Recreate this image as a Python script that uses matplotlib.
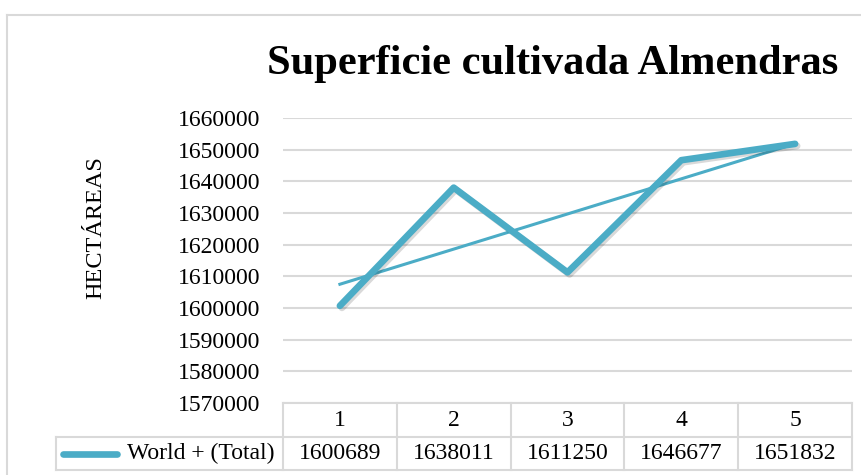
import numpy as np
import matplotlib.pyplot as plt
import matplotlib.patheffects as pe

plt.rcParams['font.family'] = ['Liberation Serif', 'DejaVu Serif']

# datos
categorias = ['1', '2', '3', '4', '5']
superficie = [1600689, 1638011, 1611250, 1646677, 1651832]
serie = 'World + (Total)'
titulo = 'Superficie cultivada Almendras'
eje_y = 'HECTÁREAS'

color = '#4BACC6'
gris = '#D9D9D9'
fs = 17

W, H = 862, 475
fig = plt.figure(figsize=(W / 100, H / 100), dpi=100)

# marco del gráfico
fig.add_artist(plt.Line2D([7 / W, 1.2], [1 - 15 / H] * 2, transform=fig.transFigure, color=gris, lw=1.5))
fig.add_artist(plt.Line2D([7 / W] * 2, [-0.2, 1 - 15 / H], transform=fig.transFigure, color=gris, lw=1.5))

ax = fig.add_axes([283 / W, 1 - 403 / H, 569 / W, 285 / H])
x = np.arange(1, len(superficie) + 1)

ax.plot(x, superficie, color=color, lw=4.8, solid_capstyle='round', solid_joinstyle='round', zorder=3,
        path_effects=[pe.SimpleLineShadow(offset=(1.5, -1.5), shadow_color='black', alpha=0.15), pe.Normal()])

# línea de tendencia lineal
a, b = np.polyfit(x, superficie, 1)
ax.plot(x, a * x + b, color=color, lw=2.2, zorder=2)

ax.set_xlim(0.5, len(superficie) + 0.5)
ax.set_ylim(1570000, 1660000)
ax.set_yticks(np.arange(1570000, 1660001, 10000))
ax.set_yticklabels([str(v) for v in range(1570000, 1660001, 10000)], fontsize=fs)
ax.tick_params(axis='y', length=0, pad=16)
ax.set_xticks([])
ax.grid(axis='y', color=gris, lw=1.5)
ax.set_axisbelow(True)
for s in ax.spines.values():
    s.set_visible(False)

ax.set_ylabel(eje_y, fontsize=17.5, labelpad=0)
ax.yaxis.set_label_coords(-0.31, 0.614)

# tabla de datos
tr = ax.transAxes
y0, y1, y2 = 0.0, -34 / 285, -67 / 285
xl = -227 / 569
kw = dict(transform=tr, color=gris, lw=1.5, clip_on=False)
ax.plot([0, 1], [y0, y0], **kw)
ax.plot([xl, 1], [y1, y1], **kw)
ax.plot([xl, 1], [y2, y2], **kw)
ax.plot([xl, xl], [y1, y2], **kw)
for i in range(len(categorias) + 1):
    ax.plot([i / len(categorias)] * 2, [y0, y2], **kw)

for i, (c, v) in enumerate(zip(categorias, superficie)):
    xc = (i + 0.5) / len(categorias)
    ax.text(xc, (y0 + y1) / 2, c, transform=tr, ha='center', va='center', fontsize=fs)
    ax.text(xc, (y1 + y2) / 2, str(v), transform=tr, ha='center', va='center', fontsize=fs)

ax.plot([(63 - 283) / 569, (117 - 283) / 569], [(y1 + y2) / 2] * 2, transform=tr, color=color,
        lw=4.8, solid_capstyle='round', clip_on=False)
ax.text((275 - 283) / 569, (y1 + y2) / 2, serie, transform=tr, ha='right', va='center', fontsize=fs)

fig.text(553 / W, 1 - 64 / H, titulo, ha='center', va='center', fontsize=30.6, fontweight='bold')

fig.savefig('out.png', dpi=100)
